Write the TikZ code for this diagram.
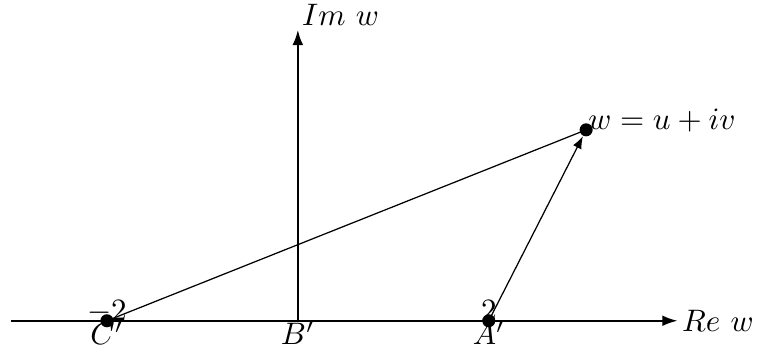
\documentclass[tikz,border=0pt]{standalone}
\usetikzlibrary{arrows.meta, positioning}

\begin{document}
\begin{tikzpicture}[
    x=1.08cm, y=1.08cm,
    >=Latex,
    % --- styles ---
    axis/.style={->, line width=0.8pt, >={Latex[length=5pt, width=3.5pt]}},
    seg/.style={line width=0.4pt},
    vec/.style={->, line width=0.4pt, >={Latex[length=4pt, width=3pt]}},
    pt/.style={circle, fill=black, inner sep=0pt, minimum size=4.2pt},
    lab/.style={inner sep=0pt},
  ]
  \useasboundingbox (-3.12,-0.27) rectangle (4.82,3.36);

  % ── Axes ──
  \coordinate (xl) at (-3,0);
  \coordinate (xr) at (3.98,0);
  \coordinate (B) at (0,0);
  \coordinate (yt) at (0,3.05);
  \draw[axis] (xl) -- (xr) node[right, lab, xshift=1pt] (rew) {$Re\ w$};
  \draw[axis] (B) -- (yt) node[anchor=south west, lab, xshift=1pt, yshift=1pt] (imw) {$Im\ w$};

  % ── Points ──
  \node[pt] (C) at (-2,0) {};
  \node[pt] (A) at (2,0) {};
  \node[pt] (W) at (3.02,2) {};

  % ── Lines to w ──
  \draw[seg] (C.center) -- (W.center);
  \draw[vec] (A.center) -- (W);

  % ── Labels ──
  \node[lab, anchor=base] (cnum) at (C.center) {$-2$};
  \node[lab, anchor=base] (anum) at (A.center) {$2$};
  \node[lab, below=0pt of C.center] (clab) {$C'$};
  \node[lab, below=0pt of B] (blab) {$B'$};
  \node[lab, below=0pt of A.center] (alab) {$A'$};
  \node[lab, anchor=base west, xshift=0.5pt] (wlab) at (W.center) {$w=u+iv$};
\end{tikzpicture}
\end{document}
